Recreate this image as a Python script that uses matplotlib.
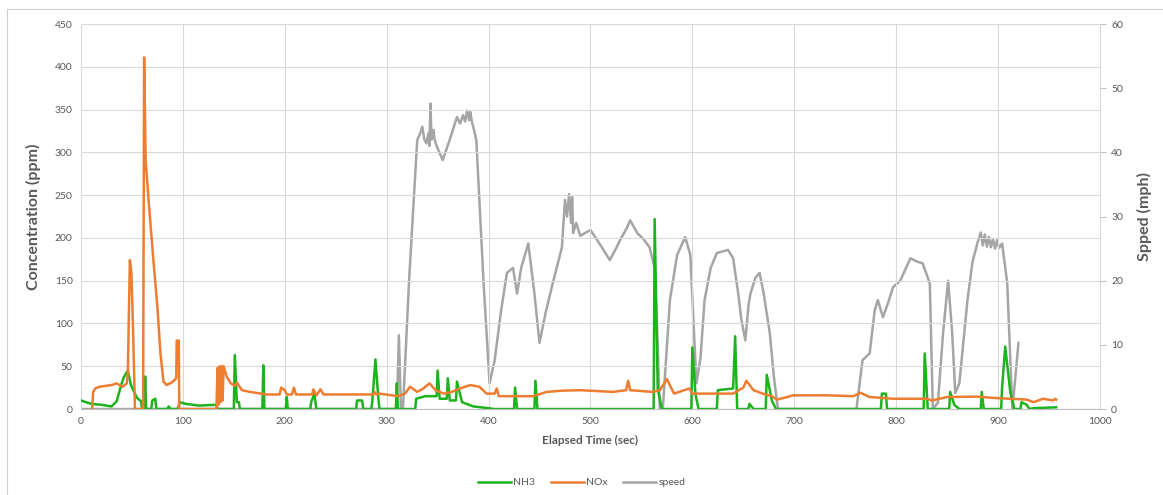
import matplotlib
matplotlib.use("Agg")
from matplotlib import pyplot as plt
from matplotlib.patches import Rectangle

# NH3 concentration (ppm) vs elapsed time (sec)
nh3_time = [0, 10, 20, 30, 35, 40, 42, 46, 49, 55, 59, 60, 62, 63, 64, 69, 70, 73, 74,
            85, 86, 88, 95, 97, 103, 116, 133, 134,
            150, 151, 153, 155, 156, 178, 179, 180, 201, 202, 203,
            225, 226, 229, 231, 270, 271, 276, 277, 285, 286, 289, 292, 293,
            309, 310, 311, 328, 329, 338, 349, 350, 352, 359, 360, 362, 368, 369, 374, 385, 400, 405,
            425, 426, 428, 445, 446, 448, 562, 563, 566, 570, 599, 600, 603, 606,
            624, 625, 640, 642, 644, 655, 656, 660, 672, 673, 678, 682,
            785, 786, 790, 791, 827, 828, 831, 852, 853, 857, 862, 883, 884, 886,
            903, 904, 907, 912, 916, 922, 923, 928, 931, 935, 957]
nh3_ppm = [10, 6, 5, 3, 9, 30, 37, 45, 28, 13, 9, 0, 0, 38, 0, 0, 10, 12, 0,
           0, 3, 0, 0, 8, 6, 4, 5, 0,
           0, 63, 8, 8, 0, 0, 51, 0, 0, 14, 0,
           0, 8, 18, 0, 0, 10, 10, 0, 0, 10, 58, 10, 0,
           0, 30, 0, 0, 12, 15, 15, 45, 12, 12, 36, 10, 10, 32, 8, 3, 1, 0,
           0, 25, 0, 0, 33, 0, 0, 222, 24, 0, 0, 72, 18, 0,
           0, 22, 24, 85, 0, 0, 6, 0, 0, 40, 10, 0,
           0, 18, 18, 0, 0, 65, 0, 0, 20, 5, 0, 0, 20, 0,
           0, 26, 73, 20, 0, 0, 8, 5, 0, 1, 2]

# NOx concentration (ppm)
nox_time = [11, 12, 14, 18, 30, 35, 41, 45, 46, 48, 49.5, 51, 53, 61, 62, 63.5, 67, 71, 75, 78, 81, 84, 89,
            92, 93.5, 94, 96, 96.5,
            133, 134, 135, 136, 137, 138, 139, 140, 143, 147, 151, 153, 158, 166, 182, 195, 196.5, 200, 202,
            207, 209, 211, 227, 228, 231, 235, 238, 287, 288, 290, 293, 311, 318, 323, 330, 336, 342, 348,
            356, 364, 372, 382, 391, 398, 406, 408, 410, 444, 457, 473, 490, 522, 535, 537, 539, 561, 568,
            575, 582, 597, 600, 620, 640, 650, 653, 660, 669, 678, 683, 693, 699, 732, 758, 765, 774, 797,
            830, 835, 850, 879, 895, 912, 928, 935, 944, 954, 956, 957]
nox_ppm = [0, 20, 24, 26, 28, 30, 26, 30, 42, 174, 160, 100, 0, 0, 411, 290, 235, 175, 120, 65, 32, 28, 31,
           34, 36, 80, 80, 0,
           0, 48, 5, 50, 8, 50, 10, 50, 38, 30, 27, 31, 22, 20, 17, 17, 25, 22, 17,
           17, 25, 17, 17, 23, 16, 23, 17, 17, 20, 17, 18, 15, 18, 26, 20, 24, 30, 22,
           18, 20, 24, 28, 26, 18, 18, 24, 15, 15, 20, 21.5, 22, 20, 22, 33, 22, 20, 22,
           35, 18, 24, 18, 18, 18, 25, 33, 22, 18, 15, 11, 14, 16, 16, 15, 19, 14, 12,
           12, 10, 14, 14.5, 13, 12, 11, 8, 12, 10, 12, 11]

# vehicle speed (mph)
speed_time = [0, 310, 312, 314, 316, 322, 330, 333, 335, 337, 339, 341, 342, 343, 344, 346, 347, 349, 355, 362,
              366, 369, 372, 375, 377, 379, 381, 382, 384, 385, 388, 395, 401, 406, 412, 418, 424, 428,
              432, 439, 445, 450, 456, 463, 472, 475, 477, 479, 481, 482, 483, 486, 490, 500, 510, 519,
              525, 529, 535, 539, 546, 552, 558, 563, 566, 568, 571, 578, 585, 593, 598, 601, 604, 608,
              612, 618, 624, 635, 640, 645, 648, 652, 655, 657, 662, 666, 670, 676, 680, 684, 761, 767,
              774, 779, 782, 787, 792, 797, 804, 814, 820, 826, 833, 836, 841, 846, 851, 855, 858, 862,
              870, 875, 880, 883, 885, 887, 889, 891, 893, 895, 897, 899, 901, 904, 909, 914, 917, 920]
speed_mph = [0, 0, 11.5, 0, 0, 20, 41.9, 43, 44, 42, 41.4, 43, 41, 47.6, 42, 43.5, 42, 41, 38.8, 42,
             44, 45.5, 44.5, 45.8, 44.8, 46.5, 45, 46.3, 44.5, 44, 41.9, 20, 4, 7.6, 15, 21.2, 22, 18,
             22, 25.8, 18, 10.3, 15, 19.6, 25.2, 32.6, 30, 33.5, 29, 33, 27.4, 29, 27, 27.9, 25.5, 23.2,
             25, 26.3, 28, 29.4, 27.4, 26.5, 25.2, 22, 10, 0, 0, 17, 24, 26.8, 24, 14, 4, 8,
             17, 22, 24.3, 24.8, 23.5, 18, 14, 10.7, 16, 18, 20.5, 21.2, 18, 11.8, 5, 0, 0, 7.6,
             8.7, 15.4, 17, 14.3, 16.5, 19, 20, 23.5, 23, 22.7, 19.6, 0, 1, 11.8, 20, 11.8, 2.5, 4,
             17, 23, 26, 27.5, 25.5, 27.2, 25.3, 26.8, 25.2, 26.5, 25, 26.3, 25.1, 25.8, 19.6, 0, 5, 10.3]

plt.rcParams['font.family'] = ['Lato', 'DejaVu Sans']
txt = '#595959'
grid_c = '#d9d9d9'

fig = plt.figure(figsize=(11.63, 4.95), dpi=100)
fig.patches.append(Rectangle((0.006, -0.01), 1.0, 0.992, transform=fig.transFigure,
                             fill=False, edgecolor='#d0d0d0', linewidth=0.8))
ax = fig.add_axes([0.0696, 0.1737, 0.8762, 0.7778])
ax2 = ax.twinx()

l1, = ax.plot(nh3_time, nh3_ppm, color='#1db31d', linewidth=1.8, label='NH3')
l2, = ax.plot(nox_time, nox_ppm, color='#ed7d31', linewidth=1.8, label='NOx')
l3, = ax2.plot(speed_time, speed_mph, color='#a5a5a5', linewidth=1.8, label='speed')
ax.set_zorder(ax2.get_zorder() + 1)
ax.patch.set_visible(False)

ax.set_xlim(0, 1000)
ax.set_ylim(0, 450)
ax2.set_ylim(0, 60)
ax.set_xticks(range(0, 1001, 100))
ax.set_yticks(range(0, 451, 50))
ax2.set_yticks(range(0, 61, 10))
ax.grid(True, color=grid_c, linewidth=0.8)
ax.set_axisbelow(True)

for a in (ax, ax2):
    for s in a.spines.values():
        s.set_visible(False)
    a.tick_params(labelsize=7.5, colors=txt)
ax.spines['bottom'].set_visible(True)
ax.spines['bottom'].set_color('#bfbfbf')
ax2.spines['right'].set_visible(True)
ax2.spines['right'].set_color('#d9d9d9')
ax.tick_params(axis='both', length=0, pad=6)
ax2.tick_params(axis='y', length=4, color='#bfbfbf', pad=4)

ax.set_ylabel('Concentration (ppm)', fontsize=11.5, fontweight='bold', color=txt, labelpad=10)
ax2.set_ylabel('Spped (mph)', fontsize=11.5, fontweight='bold', color=txt, labelpad=10)
ax.set_xlabel('Elapsed Time (sec)', fontsize=8.5, fontweight='bold', color=txt, labelpad=6)

fig.legend(handles=[l1, l2, l3], loc='center', bbox_to_anchor=(0.5, 0.025), ncol=3,
           frameon=False, fontsize=7.5, labelcolor=txt, handlelength=3.2, handletextpad=0.2,
           columnspacing=1.5)

fig.savefig('out.png', dpi=100)
